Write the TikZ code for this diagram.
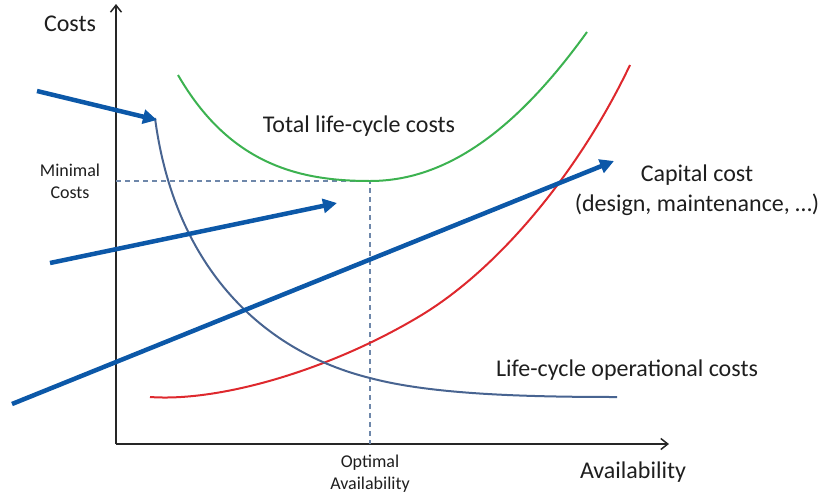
\documentclass[tikz,border=0pt]{standalone}
\usepackage{fontspec}
\setmainfont{Carlito}
\usetikzlibrary{arrows.meta}
\definecolor{greenc}{RGB}{60,178,80}
\definecolor{redc}{RGB}{222,40,45}
\definecolor{bluec}{RGB}{72,100,145}
\definecolor{arrowc}{RGB}{12,88,168}
\definecolor{dashc}{RGB}{110,135,170}
\definecolor{txtc}{RGB}{30,30,30}
\begin{document}
\begin{tikzpicture}[x=1pt,y=-1pt,
  axis/.style={line width=1.8pt,black!85,-{Straight Barb[length=7pt,width=11pt,line width=1.5pt]}},
  curve/.style={line width=2pt},
  pointer/.style={line width=4.5pt,arrowc,-{Triangle[length=14pt,width=14pt]}},
  guide/.style={line width=1.1pt,dashc,dash pattern=on 5pt off 4pt},
  bigtxt/.style={text=txtc,font=\fontsize{24}{30}\selectfont,inner sep=0pt,align=center},
  smalltxt/.style={text=txtc,font=\fontsize{18}{22}\selectfont,inner sep=0pt,align=center}]
\useasboundingbox (0,0) rectangle (827,493);
% axes
\coordinate (O) at (116,444);
\coordinate (ytop) at (116,4);
\coordinate (xend) at (669,444);
\draw[axis] (O) -- (ytop);
\draw[axis] (O) -- (xend);
% guide lines
\coordinate (opt) at (370,181);
\coordinate (optx) at (370,444);
\coordinate (opty) at (116,181);
\draw[guide] (opty) -- (opt) -- (optx);
% curves
\draw[curve,greenc] (178,75) .. controls (230,165) and (300,181) .. (opt)
   .. controls (450,181) and (520,125) .. (587,32);
\draw[curve,redc] (150,397) .. controls (220,402) and (330,370) .. (420,316)
   .. controls (500,268) and (580,170) .. (630,65);
\draw[curve,bluec] (155,118) .. controls (175,270) and (265,352) .. (370,378)
   .. controls (430,394) and (520,397) .. (617,397);
% pointer arrows
\coordinate (a1s) at (37,91);
\coordinate (a1e) at (157,120);
\coordinate (a2s) at (50,263);
\coordinate (a2e) at (337,203);
\coordinate (a3s) at (12,404);
\coordinate (a3e) at (614,161);
\draw[pointer] (a1s) -- (a1e);
\draw[pointer] (a2s) -- (a2e);
\draw[pointer] (a3s) -- (a3e);
% labels
\node[bigtxt] (costs) at (70,24) {Costs};
\node[bigtxt] (avail) at (633,472) {Availability};
\node[bigtxt] (total) at (359,126) {Total life-cycle costs};
\node[bigtxt] (oper) at (627,370) {Life-cycle operational costs};
\node[bigtxt] (capital) at (697,190) {Capital cost\\(design, maintenance, …)};
\node[smalltxt] (minc) at (70,181) {Minimal\\Costs};
\node[smalltxt] (optav) at (370,474) {Optimal\\Availability};
\end{tikzpicture}
\end{document}
